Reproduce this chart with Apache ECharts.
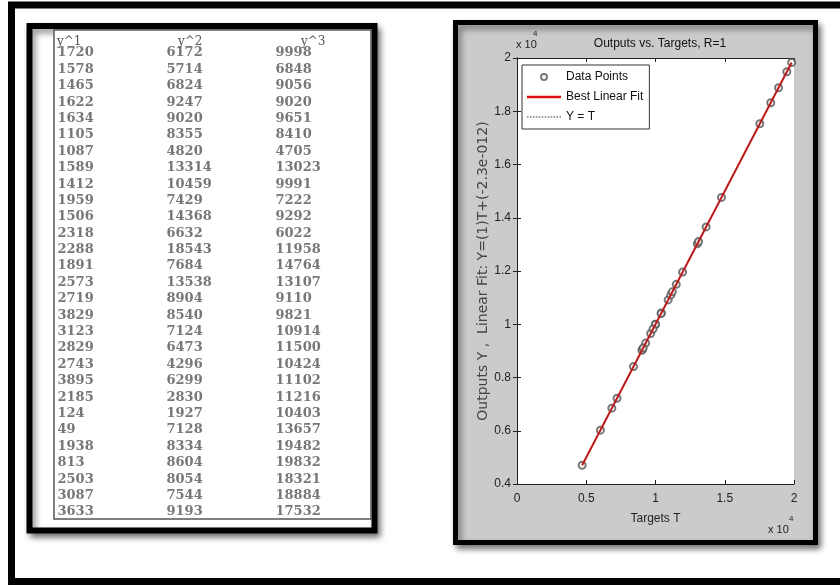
<!DOCTYPE html>
<html>
<head>
<meta charset="utf-8">
<title>Outputs vs. Targets</title>
<script src="https://cdn.jsdelivr.net/npm/echarts@6/dist/echarts.min.js"></script>
<style>
  html, body { margin: 0; padding: 0; background: #fff; }
  #chart { width: 840px; height: 585px; }
</style>
</head>
<body>
<div id="chart"></div>
<script>
// table columns
var colNames = ['y^1', 'y^2', 'y^3'];
var y1 = [1720, 1578, 1465, 1622, 1634, 1105, 1087, 1589, 1412, 1959, 1506, 2318, 2288, 1891, 2573,
          2719, 3829, 3123, 2829, 2743, 3895, 2185, 124, 49, 1938, 813, 2503, 3087, 3633];
var y2 = [6172, 5714, 6824, 9247, 9020, 8355, 4820, 13314, 10459, 7429, 14368, 6632, 18543, 7684, 13538,
          8904, 8540, 7124, 6473, 4296, 6299, 2830, 1927, 7128, 8334, 8604, 8054, 7544, 9193];
var y3 = [9998, 6848, 9056, 9020, 9651, 8410, 4705, 13023, 9991, 7222, 9292, 6022, 11958, 14764, 13107,
          9110, 9821, 10914, 11500, 10424, 11102, 11216, 10403, 13657, 19482, 19832, 18321, 18884, 17532];

// regression plot: targets and network outputs (R=1, both are the y^3 column)
var targets = y3;
var outputs = y3;
var fitSlope = 1;
var fitIntercept = -2.3e-12;

var xTicks = [0, 5000, 10000, 15000, 20000];
var yTicks = [4000, 6000, 8000, 10000, 12000, 14000, 16000, 18000, 20000];

var rowNames = y1.map(function (v, i) { return String(i + 1); });
var columns = [y1, y2, y3];

var tMin = Math.min.apply(null, targets);
var tMax = Math.max.apply(null, targets);

var plotFont = "'Liberation Sans Narrow', 'Liberation Sans', Arial, sans-serif";
var tableFont = "'DejaVu Serif', serif";

// legend icons: solid bar and dotted bar
var solidIcon = 'path://M0,0h34v2.4h-34z';
var dotIcon = 'path://' + [0, 3, 6, 9, 12, 15, 18, 21, 24, 27, 30, 33].map(function (x) {
    return 'M' + x + ',0h1.6v1.2h-1.6z';
}).join('');

var chart = echarts.init(document.getElementById('chart'));

function tableSeries(ci) {
    return {
        type: 'scatter',
        xAxisIndex: 2,
        yAxisIndex: 2,
        symbolSize: 1,
        itemStyle: { color: 'transparent' },
        silent: true,
        data: columns[ci].map(function (v, i) { return [colNames[ci], rowNames[i], v]; }),
        label: {
            show: true,
            position: 'right',
            distance: 0,
            formatter: function (p) { return String(p.value[2]); },
            fontFamily: tableFont,
            fontSize: 13,
            fontWeight: 'bold',
            color: '#555'
        }
    };
}

var axisText = { fontFamily: plotFont, fontSize: 12, color: '#222' };
var headStyle = { fontFamily: tableFont, fontSize: 12, color: '#555' };

chart.setOption({
    animation: false,
    backgroundColor: '#fff',
    title: {
        text: 'Outputs vs. Targets, R=1',
        left: 655,
        top: 33,
        textAlign: 'center',
        textStyle: { fontFamily: plotFont, fontSize: 12, fontWeight: 'normal', color: '#111' }
    },
    legend: {
        data: [
            { name: 'Data Points', icon: 'emptyCircle' },
            { name: 'Best Linear Fit', icon: solidIcon },
            { name: 'Y = T', icon: dotIcon }
        ],
        orient: 'vertical',
        left: 522,
        top: 65,
        padding: [6, 6, 6, 5],
        itemGap: 8,
        itemWidth: 34,
        itemHeight: 6,
        backgroundColor: '#fff',
        borderColor: '#333',
        borderWidth: 1,
        borderRadius: 0,
        textStyle: { fontFamily: plotFont, fontSize: 12, color: '#111' }
    },
    grid: [
        { left: 517, top: 58, width: 277, height: 426, show: true, backgroundColor: '#fff', borderWidth: 0 },
        { left: 57, top: 53, width: 218, height: 459 }
    ],
    xAxis: [
        {
            type: 'value', gridIndex: 0, min: xTicks[0], max: xTicks[xTicks.length - 1], interval: xTicks[1] - xTicks[0],
            name: 'Targets T', nameLocation: 'middle', nameGap: 29,
            nameTextStyle: axisText,
            axisLine: { lineStyle: { color: '#222', width: 1 } },
            axisTick: { inside: true, length: 4, lineStyle: { color: '#222' } },
            axisLabel: Object.assign({ margin: 9, formatter: function (v) { return String(v / 10000); } }, axisText),
            splitLine: { show: false }
        },
        {
            type: 'value', gridIndex: 0, position: 'top', min: xTicks[0], max: xTicks[xTicks.length - 1], interval: xTicks[1] - xTicks[0],
            axisLine: { lineStyle: { color: '#222', width: 1 } },
            axisTick: { inside: true, length: 4, lineStyle: { color: '#222' } },
            axisLabel: { show: false },
            splitLine: { show: false }
        },
        {
            type: 'category', gridIndex: 1, position: 'top', data: colNames, boundaryGap: false,
            axisLine: { show: false },
            axisTick: { show: false },
            axisLabel: {
                interval: 0,
                align: 'left',
                margin: 5,
                formatter: function (v, i) { return '{h' + i + '|' + v + '}'; },
                rich: {
                    h0: Object.assign({ padding: [0, 0, 0, 0] }, headStyle),
                    h1: Object.assign({ padding: [0, 0, 0, 12] }, headStyle),
                    h2: Object.assign({ padding: [0, 0, 0, 26] }, headStyle)
                }
            },
            splitLine: { show: false }
        }
    ],
    yAxis: [
        {
            type: 'value', gridIndex: 0, min: yTicks[0], max: yTicks[yTicks.length - 1], interval: yTicks[1] - yTicks[0],
            name: 'Outputs Y ,  Linear Fit: Y=(1)T+(-2.3e-012)', nameLocation: 'middle', nameGap: 21, nameRotate: 90,
            nameTextStyle: { fontFamily: "'DejaVu Sans', sans-serif", fontSize: 14, color: '#444' },
            axisLine: { show: true, lineStyle: { color: '#222', width: 1 } },
            axisTick: { show: true, inside: true, length: 4, lineStyle: { color: '#222' } },
            axisLabel: Object.assign({ margin: 6, formatter: function (v) { return String(v / 10000); } }, axisText),
            splitLine: { show: false }
        },
        {
            type: 'value', gridIndex: 0, position: 'right', min: yTicks[0], max: yTicks[yTicks.length - 1], interval: yTicks[1] - yTicks[0],
            axisLine: { show: true, lineStyle: { color: '#222', width: 1 } },
            axisTick: { show: true, inside: true, length: 4, lineStyle: { color: '#222' } },
            axisLabel: { show: false },
            splitLine: { show: false }
        },
        {
            type: 'category', gridIndex: 1, data: rowNames, inverse: true, boundaryGap: false,
            show: false
        }
    ],
    graphic: [
        // outer frame
        { type: 'rect', z: -10, shape: { x: 11.5, y: 5, width: 840, height: 576.5 },
          style: { fill: '#fff', stroke: '#000', lineWidth: 7 } },
        // table panel
        { type: 'rect', z: -9, shape: { x: 29.5, y: 26, width: 345, height: 504.5 },
          style: { fill: '#fff', stroke: '#000', lineWidth: 6, shadowColor: 'rgba(0,0,0,0.45)', shadowBlur: 6, shadowOffsetX: 3, shadowOffsetY: 4 } },
        { type: 'rect', z: -8, shape: { x: 54, y: 30, width: 317, height: 489 },
          style: { fill: '#fff', stroke: '#555', lineWidth: 1.5 } },
        // plot panel
        { type: 'rect', z: -9, shape: { x: 455.5, y: 22.5, width: 360, height: 520 },
          style: { fill: '#cbcbcb', stroke: '#000', lineWidth: 5, shadowColor: 'rgba(0,0,0,0.45)', shadowBlur: 6, shadowOffsetX: 3, shadowOffsetY: 4 } },
        // exponent markers
        { type: 'text', left: 516, top: 39, style: { text: 'x 10', font: '11px ' + plotFont, fill: '#222' } },
        { type: 'text', left: 533, top: 30, style: { text: '4', font: '8px ' + plotFont, fill: '#222' } },
        { type: 'text', left: 768, top: 524, style: { text: 'x 10', font: '11px ' + plotFont, fill: '#222' } },
        { type: 'text', left: 789, top: 515, style: { text: '4', font: '8px ' + plotFont, fill: '#222' } }
    ],
    series: [
        {
            name: 'Data Points',
            type: 'scatter',
            xAxisIndex: 0,
            yAxisIndex: 0,
            symbol: 'emptyCircle',
            symbolSize: 7,
            itemStyle: { color: '#555', borderColor: '#555', borderWidth: 1 },
            data: targets.map(function (t, i) { return [t, outputs[i]]; })
        },
        {
            name: 'Best Linear Fit',
            type: 'line',
            xAxisIndex: 0,
            yAxisIndex: 0,
            symbol: 'none',
            lineStyle: { color: '#e01010', width: 2 },
            itemStyle: { color: '#e01010' },
            data: [[tMin, fitSlope * tMin + fitIntercept], [tMax, fitSlope * tMax + fitIntercept]]
        },
        {
            name: 'Y = T',
            type: 'line',
            xAxisIndex: 0,
            yAxisIndex: 0,
            symbol: 'none',
            lineStyle: { color: '#444', width: 1, type: 'dotted' },
            itemStyle: { color: '#444' },
            data: [[tMin, tMin], [tMax, tMax]]
        },
        tableSeries(0),
        tableSeries(1),
        tableSeries(2)
    ]
});
</script>
</body>
</html>
